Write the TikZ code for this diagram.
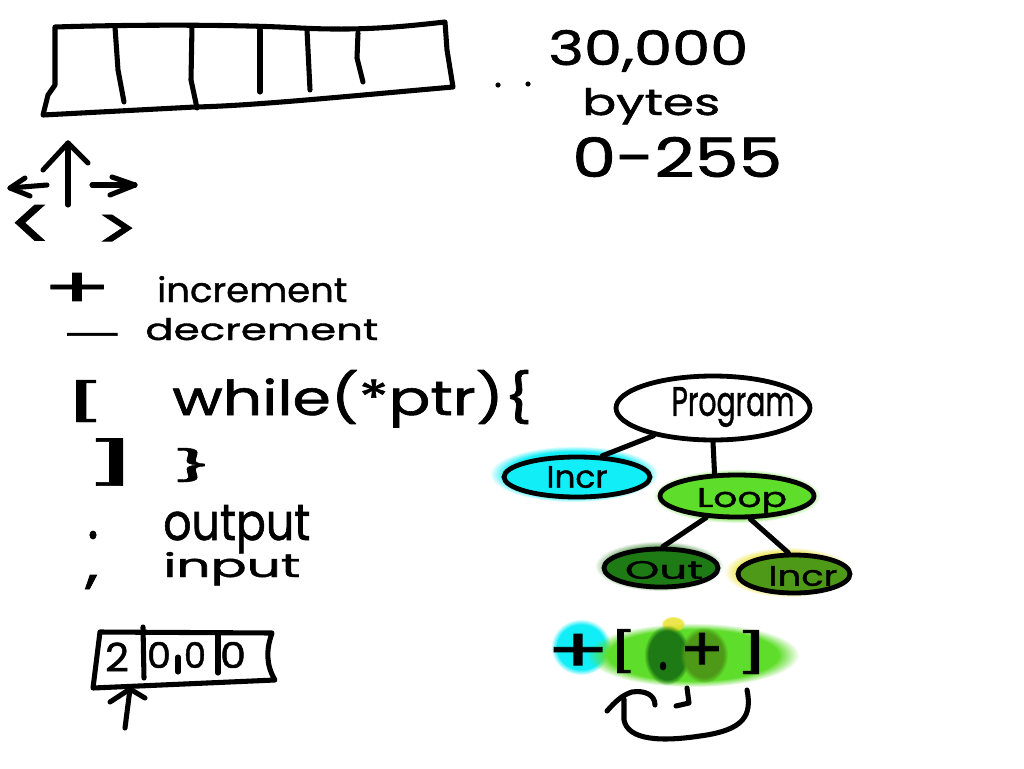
\documentclass[tikz,border=0pt]{standalone}
\usepackage{fontspec}
\setmainfont{Poppins}[FakeBold=1.2]
\usetikzlibrary{shapes.geometric,fadings}
\newlength\pxu \setlength\pxu{0.75pt}
\newcommand\hw[3]{\resizebox{#1\pxu}{#2\pxu}{#3}}
\newcommand\hws[3]{\resizebox*{#1\pxu}{#2\pxu}{#3}}
\definecolor{cy}{HTML}{12EEF8}
\definecolor{lg}{HTML}{5EDD2A}
\definecolor{dg}{HTML}{1E7A14}
\definecolor{ol}{HTML}{4E9A18}
\definecolor{yl}{HTML}{E8E020}
\begin{document}
\begin{tikzpicture}[x=0.75pt,y=-0.75pt,
  ink/.style={line width=3.8pt,line cap=round,line join=round},
  txt/.style={inner sep=0pt,anchor=base west},
  sym/.style={inner sep=0pt},
  bub/.style={ellipse,draw,line width=3.6pt,inner sep=0pt},
  glow/.style={path fading=circle with fuzzy edge 20 percent}]
\useasboundingbox (0,0) rectangle (1024,768);

% memory tape
\draw[ink] (55,27) .. controls (150,24) and (250,25) .. (300,28)
  .. controls (360,31) and (400,27) .. (445,22) -- (447,50) -- (453,87)
  .. controls (350,96) and (250,106) .. (195,107) -- (43,115) -- (48,95) -- (55,85) -- cycle;
\draw[ink] (115,27) -- (118,70) -- (124,102);
\draw[ink] (192,26) -- (191,80) -- (197,108);
\draw[ink] (260,30) -- (260,92);
\draw[ink] (307,30) -- (310,90);
\draw[ink] (358,33) -- (357,58) -- (363,82);
\fill (498,85) circle (2.6);
\fill (528,84) circle (2.6);

\node[txt] (t30) at (548,65) {\hw{200}{35}{30,000}};
\node[txt] (tby) at (582,115) {\hw{138}{27}{bytes}};
\node[txt] (trg) at (572,177) {\hw{210}{40}{0-255}};

% pointer moves
\draw[ink] (68,205) -- (68,143);
\draw[ink] (43,170) -- (68,143) -- (88,163);
\draw[ink] (47,185) -- (10,188);
\draw[ink] (25,178) -- (10,188) -- (30,196);
\draw[ink] (92,185) -- (135,185);
\draw[ink] (112,177) -- (135,185) -- (110,195);
\node[sym] (slt) at (31,228) {\hws{45}{46}{<}};
\node[sym] (sgt) at (117,232) {\hws{44}{34}{>}};

% legend
\node[sym] (spl) at (77,290) {\hws{70}{34}{+}};
\node[txt] (smi) at (62,347) {\hw{60}{14}{—}};
\node[txt] (tinc) at (157,302) {\hw{190}{26}{increment}};
\node[txt] (tdec) at (145,340) {\hw{233}{22}{decrement}};
\node[sym] (slb) at (85,401) {\hws{44}{42}{[}};
\node[txt] (twh) at (172,415) {\hw{360}{45}{while(*ptr)\{}};
\node[sym] (srb) at (111,462) {\hws{60}{47}{]}};
\node[sym] (scb) at (193,465) {\hws{42}{34}{\}}};
\node[sym] (sdot) at (93,535) {\hws{11}{8}{.}};
\node[txt] (tout) at (163,540) {\hw{147}{35}{output}};
\node[sym] (scom) at (92,582) {\hws{13}{14}{,}};
\node[txt] (tin) at (163,577) {\hw{137}{25}{input}};

% small tape
\draw[ink] (100,632) -- (272,633) .. controls (266,650) and (266,665) .. (275,680) -- (93,688) -- cycle;
\draw[ink] (143,627) -- (144,678);
\draw[ink] (178,657) -- (178,672);
\draw[ink] (218,635) -- (218,673);
\node[sym] (d1) at (117,657) {\hws{24}{29}{2}};
\node[sym] (d2) at (159,655) {\hws{24}{26}{0}};
\node[sym] (d3) at (195,655) {\hws{22}{26}{0}};
\node[sym] (d4) at (233,655) {\hws{26}{26}{0}};
\coordinate (pa) at (125,728);
\coordinate (pb) at (130,689);
\draw[ink] (pa) -- (pb);
\draw[ink] (110,702) -- (pb) -- (145,698);

% tree
\fill[cy,glow] (574,474) ellipse [x radius=84, y radius=28];
\fill[yl,glow,opacity=0.7] (788,572) ellipse [x radius=64, y radius=25];
\fill[lg,glow,opacity=0.8] (737,496) ellipse [x radius=84, y radius=27];
\fill[dg,glow,opacity=0.6] (659,566) ellipse [x radius=64, y radius=25];
\node[bub,fill=white,minimum width=194\pxu,minimum height=64\pxu] (P) at (713,408) {};
\node[sym] (Pt) at (733,407) {\hws{123}{40}{Program}};
\node[bub,fill=cy,minimum width=146\pxu,minimum height=40\pxu] (I) at (577,477) {\hws{61}{22}{Incr}};
\node[bub,fill=lg,minimum width=154\pxu,minimum height=42\pxu] (L) at (737,496) {};
\node[sym] (Lt) at (742,501) {\hws{90}{26}{Loop}};
\node[bub,fill=dg,minimum width=114\pxu,minimum height=38\pxu] (O) at (661,568) {};
\node[sym] (Ot) at (664,570) {\hws{78}{18}{Out}};
\node[bub,fill=ol,minimum width=112\pxu,minimum height=38\pxu] (N) at (794,574) {};
\node[sym] (Nt) at (803,576) {\hws{69}{20}{Incr}};
\draw[ink] (P.205) -- (I.40);
\draw[ink] (P.270) -- (L.135);
\draw[ink] (L.215) -- (O.85);
\draw[ink] (L.300) -- (N.105);

% program +[.+]
\fill[cy,glow] (581,647) ellipse [x radius=30, y radius=28];
\fill[lg,glow] (693,655) ellipse [x radius=106, y radius=32];
\fill[yl,glow,opacity=0.8] (673,624) ellipse [x radius=12, y radius=8];
\fill[dg,glow] (667,655) ellipse [x radius=23, y radius=30];
\fill[ol,glow] (704,655) ellipse [x radius=24, y radius=28];
\node[sym] (bp1) at (578,653) {\hws{64}{38}{+}};
\node[sym] (bl) at (623,651) {\hws{30}{44}{[}};
\node[sym] (bd) at (663,666) {\hws{10}{8}{.}};
\node[sym] (bp2) at (702,652) {\hws{44}{38}{+}};
\node[sym] (br) at (752,652) {\hws{36}{44}{]}};
\draw[ink] (747,690) .. controls (752,715) and (745,730) .. (700,736)
  .. controls (660,742) and (628,740) .. (624,720) -- (624,699);
\draw[ink] (607,711) .. controls (615,702) and (622,695) .. (632,692)
  .. controls (645,690) and (655,695) .. (655,705);
\draw[ink] (687,688) -- (689,703) -- (676,706);
\end{tikzpicture}
\end{document}
